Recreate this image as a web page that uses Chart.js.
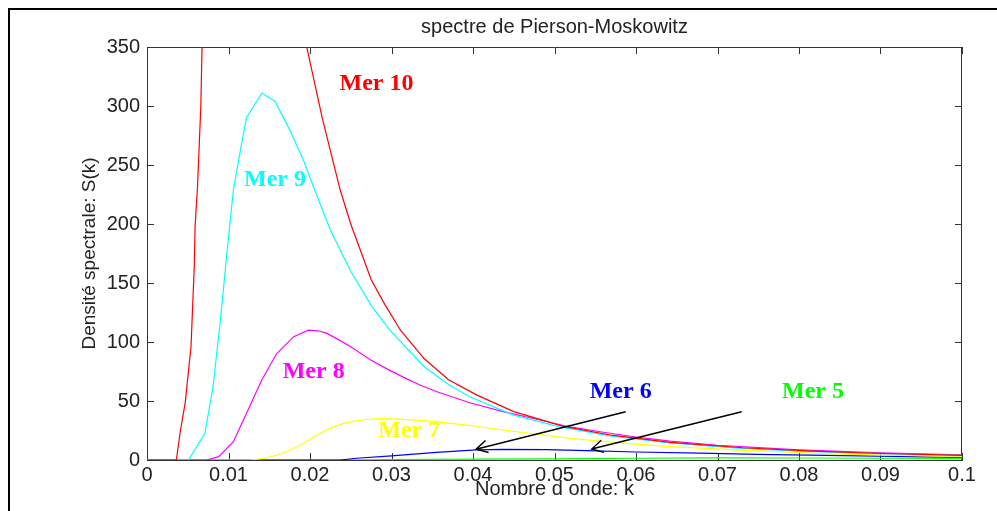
<!DOCTYPE html>
<html><head><meta charset="utf-8">
<script src="https://cdn.jsdelivr.net/npm/chart.js@4.4.1/dist/chart.umd.min.js"></script>
<style>html,body{margin:0;padding:0;background:#fff;overflow:hidden}#wrap{width:997px;height:511px;position:relative}</style>
</head><body><div id="wrap"><canvas id="c" width="997" height="511"></canvas></div>
<script>
// ---- data ----
const titleText = 'spectre de Pierson-Moskowitz';
const xTitle = 'Nombre d onde: k';
const yTitle = 'Densité spectrale: S(k)';

const xTickVals = [0,0.01,0.02,0.03,0.04,0.05,0.06,0.07,0.08,0.09,0.1];
const xTickLabels = ['0','0.01','0.02','0.03','0.04','0.05','0.06','0.07','0.08','0.09','0.1'];
const yTickVals = [0,50,100,150,200,250,300,350];
const yTickLabels = ['0','50','100','150','200','250','300','350'];

const seriesNames = ['Mer 10','Mer 9','Mer 8','Mer 7','Mer 6','Mer 5'];
const seriesColors = ['#ff0000','#00ffff','#ff00ff','#ffff00','#0000ff','#00ff00'];

const k10 = [0,0.0036,0.0041,0.0047,0.0051,0.0054,0.0056,0.0058,0.0059,0.0062,0.0064,0.0066,0.0068,0.008,0.010,0.012,0.014,0.016,0.018,0.0196,0.0215,0.0237,0.025,0.0275,0.029,0.0311,0.034,0.037,0.0405,0.045,0.0511,0.057,0.0642,0.0731,0.0817,0.0903,0.1];
const s10 = [0,0,25,49,76,96,130,164,198,232,265,299,365,520,690,700,630,540,440,350,290,229,200,153,134,110,86,68,55,41,28.5,21,15,10.4,7.5,5.5,4];

const k9 = [0,0.0051,0.0071,0.0081,0.009,0.0098,0.0106,0.0114,0.0122,0.0141,0.0157,0.0175,0.0192,0.0204,0.0225,0.025,0.0275,0.0298,0.034,0.037,0.0396,0.045,0.0507,0.057,0.0642,0.072,0.08,0.09,0.1];
const s9 = [0,0,22.6,62,118,175,229,260,290,311,304,280,254,232,195,160,131,110,79,64,53.6,38,28,20.2,14.4,10.3,7.6,5.4,4];

const k8 = [0,0.0073,0.0088,0.0106,0.0122,0.0141,0.0159,0.018,0.0198,0.021,0.022,0.0235,0.025,0.0274,0.0295,0.0315,0.0335,0.0355,0.0396,0.0437,0.0478,0.0519,0.056,0.06,0.0642,0.07,0.08,0.09,0.1];
const s8 = [0,0,2.8,15.5,39.5,68,90,104.5,110,109.5,107.5,102,96,85,77,70,63.5,58,48.5,41,34.5,28,23.5,19.5,16,12.5,8.5,6,4.3];

const k7 = [0,0.0126,0.0145,0.0159,0.0175,0.0188,0.02,0.0212,0.0225,0.0241,0.0255,0.0269,0.0285,0.031,0.0335,0.0355,0.04,0.0437,0.0519,0.058,0.0642,0.074,0.085,0.1];
const s7 = [0,0,1.5,4,8,12.5,17.5,22.5,27,31,33,34.3,35,34.7,33.5,32.5,29,25.4,18.4,14.5,11.3,7.9,5,2.8];

const k6 = [0,0.0237,0.0257,0.03,0.0355,0.0404,0.0437,0.049,0.054,0.06,0.0679,0.0748,0.0834,0.0917,0.1];
const s6 = [0,0,1.5,3.5,6.5,8.5,9,8.8,8,6.8,5.8,4.8,4,3,2.3];

const k5 = [0,0.0237,0.03,0.04,0.05,0.06,0.07,0.08,0.09,0.1];
const s5 = [0,0,0.4,0.8,1.0,1.5,1.8,1.7,1.5,1.3];

// text labels position (k, S)
const labelK = [0.02816,0.01571,0.02045,0.03218,0.05812,0.08172];
const labelS = [319.2,237.3,74.8,24.7,57.9,57.9];

// arrows: from (k,S) to tip (k,S)
const arrowFromK = [0.05874,0.07297];
const arrowFromS = [40.9,40.9];
const arrowToK = [0.04037,0.05456];
const arrowToS = [9.1,9.3];

// ---- chart ----
const kArr = [k10,k9,k8,k7,k6,k5];
const sArr = [s10,s9,s8,s7,s6,s5];
const datasets = seriesNames.map((n,i)=>({
  label:n,
  data:kArr[i].map((k,j)=>({x:k,y:sArr[i][j]})),
  borderColor:seriesColors[i],
  backgroundColor:seriesColors[i],
  borderWidth:1.2,
  pointRadius:0,
  tension:0,
  fill:false
}));

const axisColor = '#333';
const textColor = '#222';
const sans = '"Liberation Sans", Arial, sans-serif';

const deco = {
  id:'deco',
  beforeDraw(chart){
    const c = chart.ctx;
    c.save();
    c.fillStyle = '#fff';
    c.fillRect(0,0,chart.width,chart.height);
    c.fillStyle = '#000';
    c.fillRect(8,8,chart.width-8,2);
    c.fillRect(8,8,2,chart.height-8);
    c.restore();
  },
  beforeDatasetsDraw(chart){
    const c = chart.ctx, a = chart.chartArea;
    const xs = chart.scales.x, ys = chart.scales.y;
    c.save();
    c.strokeStyle = axisColor;
    c.lineWidth = 1;
    c.beginPath();
    c.moveTo(a.left, Math.round(a.top)+0.5); c.lineTo(a.right, Math.round(a.top)+0.5);
    c.moveTo(Math.round(a.right)-0.5, a.top); c.lineTo(Math.round(a.right)-0.5, a.bottom);
    const tl = 7;
    xTickVals.forEach(v=>{
      const px = Math.round(xs.getPixelForValue(v))+0.5;
      c.moveTo(px,a.bottom); c.lineTo(px,a.bottom-tl);
      c.moveTo(px,a.top); c.lineTo(px,a.top+tl);
    });
    yTickVals.forEach(v=>{
      const py = Math.round(ys.getPixelForValue(v))+0.5;
      c.moveTo(a.left,py); c.lineTo(a.left+tl,py);
      c.moveTo(a.right,py); c.lineTo(a.right-tl,py);
    });
    c.stroke();
    c.restore();
  },
  afterDatasetsDraw(chart){
    const c = chart.ctx, a = chart.chartArea;
    const xs = chart.scales.x, ys = chart.scales.y;
    c.save();
    // title
    c.fillStyle = textColor;
    c.font = '20px ' + sans;
    c.textAlign = 'center';
    c.textBaseline = 'middle';
    c.fillText(titleText, (a.left+a.right)/2, 27);
    // arrows
    c.strokeStyle = '#000';
    c.lineWidth = 1.4;
    for (let i=0;i<arrowFromK.length;i++){
      const x1 = xs.getPixelForValue(arrowFromK[i]), y1 = ys.getPixelForValue(arrowFromS[i]);
      const x2 = xs.getPixelForValue(arrowToK[i]), y2 = ys.getPixelForValue(arrowToS[i]);
      const ang = Math.atan2(y1-y2, x1-x2);
      const L = 13, w = 0.5;
      c.beginPath();
      c.moveTo(x1,y1); c.lineTo(x2,y2);
      c.moveTo(x2+L*Math.cos(ang-w), y2+L*Math.sin(ang-w));
      c.lineTo(x2,y2);
      c.lineTo(x2+L*Math.cos(ang+w), y2+L*Math.sin(ang+w));
      c.stroke();
    }
    // series labels
    c.font = 'bold 24px "Liberation Serif", "Times New Roman", serif';
    for (let i=0;i<seriesNames.length;i++){
      c.fillStyle = seriesColors[i];
      c.fillText(seriesNames[i], xs.getPixelForValue(labelK[i]), ys.getPixelForValue(labelS[i]));
    }
    c.restore();
  }
};

new Chart(document.getElementById('c'), {
  type:'line',
  data:{datasets},
  options:{
    responsive:false,
    animation:false,
    devicePixelRatio:1,
    parsing:false,
    normalized:true,
    layout:{padding:{top:47,left:70,right:35,bottom:0}},
    plugins:{legend:{display:false},title:{display:false},tooltip:{enabled:false}},
    scales:{
      x:{
        type:'linear', min:0, max:0.1,
        afterBuildTicks:s=>{s.ticks = xTickVals.map(v=>({value:v}));},
        afterFit:s=>{s.height = 51;},
        ticks:{callback:(v,i)=>xTickLabels[i], color:textColor, font:{family:sans,size:20}, padding:3, maxRotation:0, autoSkip:false},
        grid:{display:false, drawTicks:false},
        border:{display:true, color:axisColor, width:1},
        title:{display:true, text:xTitle, color:textColor, font:{family:sans,size:20}, padding:{top:0,bottom:10}}
      },
      y:{
        type:'linear', min:0, max:350,
        afterBuildTicks:s=>{s.ticks = yTickVals.map(v=>({value:v}));},
        afterFit:s=>{s.width = 77;},
        ticks:{callback:(v,i)=>yTickLabels[i], color:textColor, font:{family:sans,size:20}, padding:7, autoSkip:false},
        grid:{display:false, drawTicks:false},
        border:{display:true, color:axisColor, width:1},
        title:{display:true, text:yTitle, color:textColor, font:{family:sans,size:19}, padding:{top:8,bottom:0}}
      }
    }
  },
  plugins:[deco]
});
</script>
</body></html>
